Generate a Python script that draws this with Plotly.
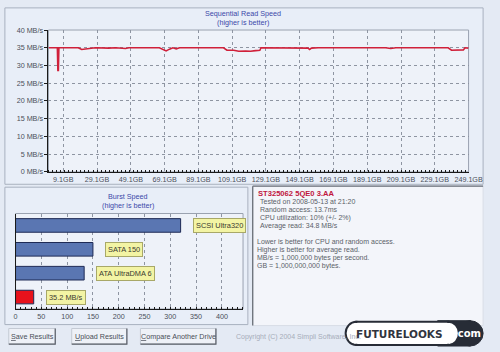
import plotly.graph_objects as go

# ---------------- data ----------------
seq_gb = [0.4, 5.6, 5.9, 6.2, 6.5, 12, 16, 18, 20, 22, 24, 28, 36, 40, 46, 48, 66, 68, 70, 72, 74,
          76, 78, 104, 106, 110, 113, 117, 120, 123, 125.5, 126.2, 135, 150, 154, 155, 156, 160,
          168, 172, 200, 203, 206, 230, 237, 239, 243, 246, 247, 249.1]
seq_mbs = [35.0, 35.0, 28.6, 28.6, 35.0, 35.0, 34.9, 35.0, 34.5, 34.6, 34.9, 35.0, 34.9, 35.0, 34.8,
           35.0, 35.0, 34.6, 34.1, 34.6, 35.0, 34.7, 35.0, 35.0, 34.3, 34.3, 34.0, 34.1, 34.0, 34.2,
           34.3, 35.0, 35.0, 35.0, 34.9, 34.5, 34.9, 35.0, 34.9, 35.0, 35.0, 34.8, 35.0, 35.0, 35.0,
           34.3, 34.3, 34.4, 35.0, 34.9]
x_tick_vals = [9.1, 29.1, 49.1, 69.1, 89.1, 109.1, 129.1, 149.1, 169.1, 189.1, 209.1, 229.1, 249.1]
x_tick_text = ["9.1GB", "29.1GB", "49.1GB", "69.1GB", "89.1GB", "109.1GB", "129.1GB", "149.1GB",
               "169.1GB", "189.1GB", "209.1GB", "229.1GB", "249.1GB"]
y_tick_vals = [0, 5, 10, 15, 20, 25, 30, 35, 40]
y_tick_text = ["0 MB/s", "5 MB/s", "10 MB/s", "15 MB/s", "20 MB/s", "25 MB/s", "30 MB/s",
               "35 MB/s", "40 MB/s"]

burst_cats = ["SCSI Ultra320", "SATA 150", "ATA UltraDMA 6", "This drive"]
burst_vals = [320, 150, 133, 35.2]
burst_labels = ["SCSI Ultra320", "SATA 150", "ATA UltraDMA 6", "35.2 MB/s"]
burst_colors = ["#5a76b2", "#5a76b2", "#5a76b2", "#e8121c"]
burst_ticks = [0, 50, 100, 150, 200, 250, 300, 350, 400]

drive_name = "ST325062 5QE0 3.AA"
info_lines = ["Tested on 2008-05-13 at 21:20", "Random access: 13.7ms",
              "CPU utilization: 10% (+/- 2%)", "Average read: 34.8 MB/s"]
note_lines = ["Lower is better for CPU and random access.", "Higher is better for average read.",
              "MB/s = 1,000,000 bytes per second.", "GB = 1,000,000,000 bytes."]
buttons = ["<u>S</u>ave Results", "<u>U</u>pload Results", "<u>C</u>ompare Another Drive"]

# ---------------- helpers ----------------
W, H = 500, 352
def px(x):
    return x / W
def py(y):
    return 1 - y / H

FONT = "Liberation Sans, Arial, sans-serif"
TXT = "#4a4f58"
BLUE = "#3b48a8"

fig = go.Figure()

fig.add_trace(go.Scatter(x=seq_gb, y=seq_mbs, mode="lines", xaxis="x", yaxis="y",
                         line=dict(color="#d0203a", width=1.6), hoverinfo="skip", showlegend=False))

fig.add_trace(go.Bar(x=burst_vals, y=burst_cats, orientation="h", xaxis="x2", yaxis="y2",
                     marker=dict(color=burst_colors, line=dict(color="#1e2a55", width=1)),
                     width=0.57, hoverinfo="skip", showlegend=False))

shapes = []
annotations = []

def rect(x0, y0, x1, y1, fill, line, lw=1, layer="below"):
    shapes.append(dict(type="rect", xref="paper", yref="paper", x0=px(x0), x1=px(x1),
                       y0=py(y1), y1=py(y0), fillcolor=fill, line=dict(color=line, width=lw),
                       layer=layer))

def circle(x0, y0, x1, y1, fill, line, lw=1):
    shapes.append(dict(type="circle", xref="paper", yref="paper", x0=px(x0), x1=px(x1),
                       y0=py(y1), y1=py(y0), fillcolor=fill, line=dict(color=line, width=lw),
                       layer="above"))

# panels
rect(3, 4, 497, 185, "#e8eef8", "#a9b1bf")
rect(3, 188, 254, 329, "#e8eef8", "#a9b1bf")
rect(259, 187, 497, 330, "#f3f5fa", "#d8dde6")
shapes.append(dict(type="line", xref="paper", yref="paper", x0=px(259), x1=px(259),
                   y0=py(330), y1=py(187), line=dict(color="#6a6f78", width=1.3)))
shapes.append(dict(type="line", xref="paper", yref="paper", x0=px(259), x1=px(497),
                   y0=py(187), y1=py(187), line=dict(color="#6a6f78", width=1.3)))

for xa, ya in (("x", "y"), ("x2", "y2")):
    shapes.append(dict(type="rect", xref=xa + " domain", yref=ya + " domain", x0=0, x1=1, y0=0, y1=1,
                       fillcolor="#eef2f9", line=dict(color="#9aa2b0", width=1), layer="below"))

def txt(x, y, s, color=TXT, size=7, anchor="left", family=FONT):
    annotations.append(dict(x=px(x), y=py(y), xref="paper", yref="paper", text=s, showarrow=False,
                            xanchor=anchor, yanchor="middle", borderpad=0,
                            font=dict(family=family, size=size, color=color)))

txt(249, 10, "Sequential Read Speed", BLUE, 7.2, "center")
txt(249, 19, "(higher is better)", BLUE, 7.2, "center")
txt(130, 198, "Burst Speed", BLUE, 7.2, "center")
txt(130, 207, "(higher is better)", BLUE, 7.2, "center")

for cat, val, lab in zip(burst_cats, burst_vals, burst_labels):
    annotations.append(dict(x=val, y=cat, xref="x2", yref="y2", text=lab, showarrow=False,
                            xanchor="left", yanchor="middle", xshift=12,
                            font=dict(family=FONT, size=7.4, color="#3a3a30"),
                            bgcolor="#f3f4a4", bordercolor="#a8a868", borderwidth=1, borderpad=2))

txt(263, 194, "<b>" + drive_name + "</b>", "#c0163e", 7.6)
for i, s in enumerate(info_lines):
    txt(266, 203 + i * 8.2, s, "#5a5f68", 7)
for i, s in enumerate(note_lines):
    txt(262, 244 + i * 8.3, s, "#5a5f68", 7)

for (x0, x1), s in zip([(7, 55), (72, 129), (143, 221)], buttons):
    rect(x0, 333, x1, 349, "#eef1f7", "#c4cad4")
    shapes.append(dict(type="path", xref="paper", yref="paper",
                       path=f"M {px(x0)},{py(349)} L {px(x1)},{py(349)} L {px(x1)},{py(333)}",
                       line=dict(color="#5a5f68", width=1.2)))
    txt((x0 + x1) / 2, 341, s, "#4a4f58", 7.2, "center")

txt(241, 342, "Copyright (C) 2004 Simpli Software, Inc.", "#a6adba", 7)

# logo: dark pill behind, white pill in front
circle(470, 325, 497, 351, "#272c36", "#272c36")
rect(450, 325, 484, 351, "#272c36", "#272c36", layer="above")
circle(355, 326, 377, 350, "#ffffff", "#272c36", 2)
circle(450, 326, 472, 350, "#ffffff", "#272c36", 2)
rect(366, 326, 461, 350, "#ffffff", "#272c36", 2, layer="above")
rect(364, 327.3, 463, 348.7, "#ffffff", "#ffffff", 0, layer="above")
annotations.append(dict(x=px(411), y=py(338.5), xref="paper", yref="paper", text="<b>FUTURELOOKS</b>",
                        showarrow=False, xanchor="center", yanchor="middle",
                        font=dict(family="DejaVu Sans", size=10.5, color="#30343e")))
annotations.append(dict(x=px(481), y=py(338.5), xref="paper", yref="paper", text="<b>.com</b>",
                        showarrow=False, xanchor="center", yanchor="middle",
                        font=dict(family="DejaVu Sans", size=10, color="#ffffff")))

grid = dict(showgrid=True, gridcolor="#8e95a2", griddash="dot", gridwidth=1)

fig.update_layout(
    width=W, height=H, autosize=False, margin=dict(l=0, r=0, t=0, b=0),
    paper_bgcolor="#e4eaf4", plot_bgcolor="rgba(0,0,0,0)",
    font=dict(family=FONT, size=7, color=TXT),
    shapes=shapes, annotations=annotations, showlegend=False, bargap=0.43,
    xaxis=dict(domain=[px(48), px(482)], anchor="y", range=[0.33, 249.1], tickmode="array",
               tickvals=x_tick_vals, ticktext=x_tick_text, showline=True, linecolor="#1a1a1a",
               linewidth=1, ticks="", zeroline=False, tickfont=dict(size=7.2, color=TXT),
               minor=dict(tickmode="linear", tick0=0.33, dtick=2.4, ticks="inside", ticklen=2,
                          tickcolor="#1a1a1a", showgrid=False), **grid),
    yaxis=dict(domain=[py(172.3), py(26.7)], anchor="x", range=[0, 40], tickmode="array",
               tickvals=y_tick_vals, ticktext=y_tick_text, showline=True, linecolor="#1a1a1a",
               linewidth=1, ticks="outside", ticklen=3, tickcolor="#1a1a1a", zeroline=False,
               tickfont=dict(size=7.2, color=TXT), **grid),
    xaxis2=dict(domain=[px(14), px(249)], anchor="y2", range=[0, 441], tickmode="array",
                tickvals=burst_ticks, showline=True, linecolor="#1a1a1a", linewidth=1.2,
                ticks="", zeroline=False, tickfont=dict(size=7.2, color=TXT),
                minor=dict(tickmode="linear", tick0=0, dtick=10, ticks="inside", ticklen=2,
                           tickcolor="#1a1a1a", showgrid=False), **grid),
    yaxis2=dict(domain=[py(313), py(215)], anchor="x2", showticklabels=False, showgrid=False,
                showline=True, linecolor="#1a1a1a", linewidth=1.2, ticks="",
                autorange="reversed", categoryorder="array", categoryarray=burst_cats),
)

fig.write_html("out.html")
